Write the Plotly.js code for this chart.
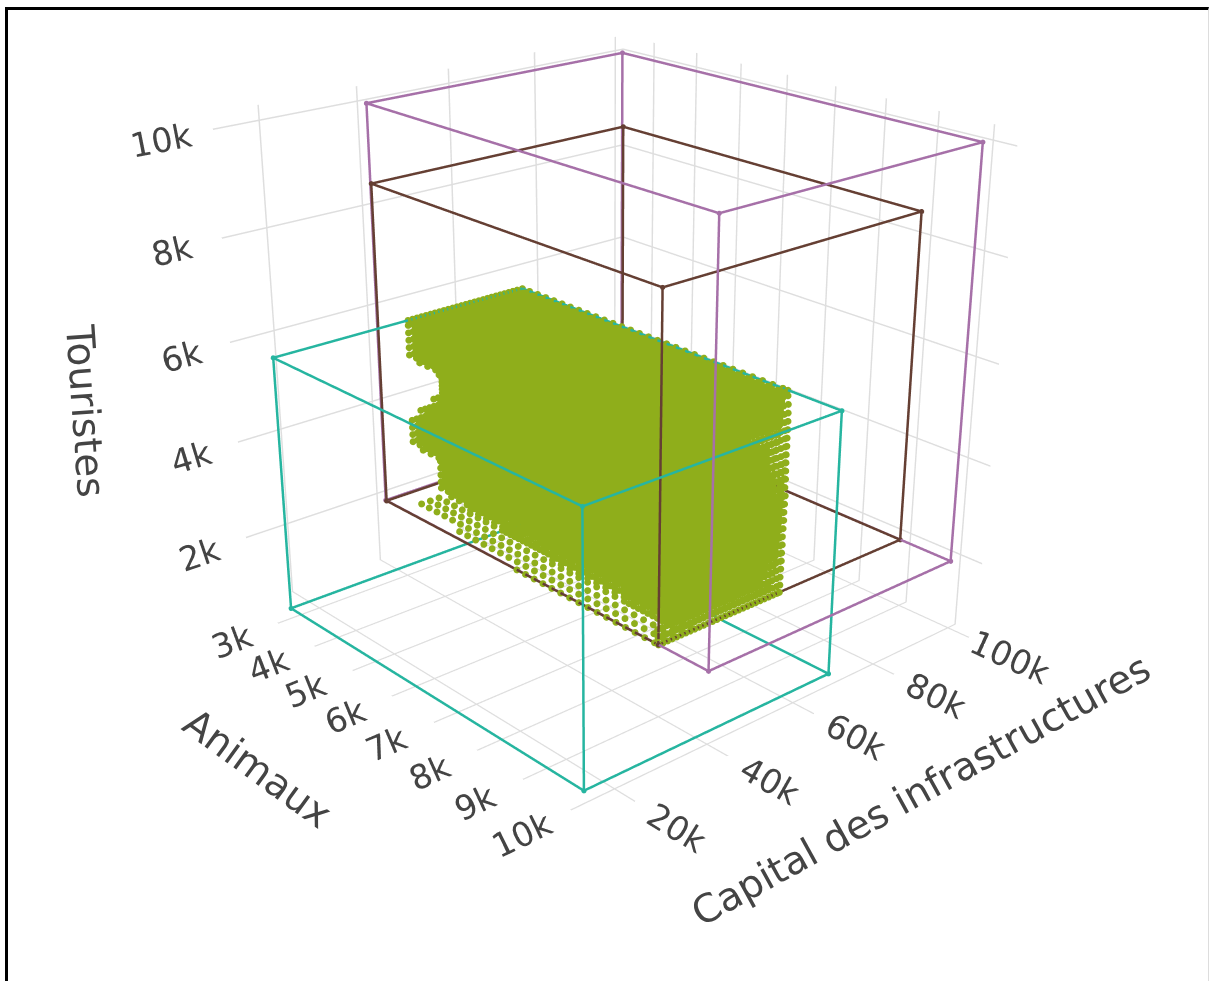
<!DOCTYPE html>
<html><head><meta charset="utf-8">
<script src="https://cdn.plot.ly/plotly-3.0.1.min.js"></script>
<style>html,body{margin:0;padding:0;background:#fff;overflow:hidden}#frame{position:absolute;left:5px;top:7px;width:1200px;height:971px;border-left:3px solid #000;border-top:3px solid #000;border-right:1px solid #ddd;overflow:hidden}#g{position:absolute;left:-2px;top:-374px;width:1201px;height:1715px}</style>
</head><body><div id="frame"><div id="g"></div></div>
<script>
var tealAnimals=[3221,10124], tealCapital=[12442,66957], tealTourists=[888,6000];
var brownAnimals=[3040,9381], brownCapital=[35700,93820], brownTourists=[2315,8723];
var purpleAnimals=[3010,10368], purpleCapital=[35760,93870], purpleTourists=[2315,10208];
var greenAnimals=[3221,3400,3600,3800,4000,4200,4400,4600,4800,5000,5200,5400,5600,5800,6000,6200,6400,6600,6800,7000,7200,7400,7600,7800,8000,8200,8400,8600,8800,9000,9200,9381];
var greenCapital=[35717,36700,37700,38700,39700,40700,41700,42700,43700,44700,45700,46700,47700,48700,49700,50700,51700,52700,53700,54700,55700,56700,57700,58700,59700,60700,61700,62700,63700,64700,65700,66957];
var greenTourists=[2315,2450,2600,2750,2900,3050,3200,3350,3500,3650,3800,3950,4100,4250,4400,4550,4700,4850,5000,5150,5300,5450,5600,5750,5900,6000];
var innerTourists=[2525,2675,2825,2975,3125,3275,3425,3575,3725,3875,4025,4175,4325,4475,4625,4775,4925];
var capitalStartByLevel=[46000,46000,46000,46200,46400,46400,46400,43000,40000,40000,40000,40500,42000,45000,47000,47100,47100,46700,45000,43000,40000,40000,40000,40000,40000,40000];
var capitalEndByLevel=[63300,63500,63600,63800,64000,64100,64300,64400,64600,64800,64900,65100,65300,65400,65600,65700,65800,65900,66100,66200,66400,66500,66600,66800,66900,66957];
var animalEndByLevel=[9381,9370,9360,9350,9340,9330,9320,9310,9300,9290,9280,9270,9260,9240,9230,9220,9210,9200,9190,9180,9170,9160,9150,9130,9110,9100];
var capitalShiftByAnimal=[0,200,500,800,1100,1400,1600,1800,2000,2200,2400,2600,2800,3000,3100,3200,3300,3400,3600,3700,3800,3900,4000,4100,4200,4300,4400,4500,4600,4700,4800,4800];
var floorAnimals=[3500,3700,3900,4100,4300,4500,4700,4900,5100,5300,5500,5700,5900,6100,6300,6500,6700,6900,7100,7300,7500,7700,7900,8100,8300,8500,8700,8900,9100,9300];
var floorCapital=[35717,37700,39700,41700,43700];
var floorFirstRow=[2,2,2,2,2,2,1,1,1,1,1,1,1,1,0,0,0,0,0,0,0,0,0,0,0,0,0,0,0,0];
var xTicks=[3000,4000,5000,6000,7000,8000,9000,10000], xLabels=['3k','4k','5k','6k','7k','8k','9k','10k'];
var yTicks=[20000,40000,60000,80000,100000], yLabels=['20k','40k','60k','80k','100k'];
var zTicks=[2000,4000,6000,8000,10000], zLabels=['2k','4k','6k','8k','10k'];
function wire(X,Y,Z,color){
 var order=[[0,0,0],[1,0,0],[1,1,0],[0,1,0],[0,0,0],[0,0,1],[1,0,1],[1,1,1],[0,1,1],[0,0,1],[null],[1,0,0],[1,0,1],[null],[1,1,0],[1,1,1],[null],[0,1,0],[0,1,1]];
 return {type:'scatter3d',mode:'lines+markers',x:order.map(o=>o[0]===null?null:X[o[0]]),y:order.map(o=>o[0]===null?null:Y[o[1]]),z:order.map(o=>o[0]===null?null:Z[o[2]]),line:{color:color,width:5},marker:{color:color,size:3},showlegend:false,hoverinfo:'none'};
}
var px=[],py=[],pz=[];
function add(a,c,t){px.push(a);py.push(c);pz.push(t);}
greenTourists.forEach(function(t,k){
 var aEnd=animalEndByLevel[k],cEnd=capitalEndByLevel[k];
 greenAnimals.forEach(function(a,i){
  var cStart=Math.max(35717,capitalStartByLevel[k]-capitalShiftByAnimal[i]);
  if(a>aEnd)return;
  greenCapital.forEach(function(c){if(c>=cStart&&c<=cEnd)add(a,c,t);});
  add(a,cEnd,t);
 });
 greenCapital.forEach(function(c){if(c<=cEnd&&c>=35717+capitalStartByLevel[k]-46000)add(aEnd,c,t);});
 add(aEnd,cEnd,t);
});
innerTourists.forEach(function(t){greenAnimals.forEach(function(a){if(a<=9000)greenCapital.forEach(function(c){if(c>=47700&&c<=63700)add(a,c,t);});});});
floorAnimals.forEach(function(a,i){floorCapital.forEach(function(c,j){if(j>=floorFirstRow[i])add(a,c,2315);});});
var data=[wire(tealAnimals,tealCapital,tealTourists,'#26b5a0'),wire(purpleAnimals,purpleCapital,purpleTourists,'#a670a8'),wire(brownAnimals,brownCapital,brownTourists,'#653f33'),
{type:'scatter3d',mode:'markers',x:px,y:py,z:pz,marker:{color:'#8fae1b',size:4,line:{width:0}},showlegend:false,hoverinfo:'none'}];
function ax(vals,txt,r){return {title:{text:''},range:r,tickvals:vals,ticktext:txt,tickfont:{family:'DejaVu Sans',size:20,color:'#444'},ticks:'outside',ticklen:28,tickwidth:1,tickcolor:'rgba(255,255,255,0)',showbackground:false,gridcolor:'#dedede',gridwidth:3,zeroline:false,showline:false,showspikes:false};}
function title(text,sx,sy,angle){return {text:text,xref:'paper',yref:'paper',x:(sx-6)/1201,y:1-(sy+364)/1715,xanchor:'center',yanchor:'middle',showarrow:false,textangle:angle,font:{family:'DejaVu Sans',size:39,color:'#444'}};}
var layout={width:1201,height:1715,margin:{l:0,r:0,t:0,b:0},paper_bgcolor:'#fff',showlegend:false,
annotations:[title('Animaux',258,768,36),title('Capital des infrastructures',920,790,-29),title('Touristes',85,411,86)],
scene:{aspectmode:'manual',aspectratio:{x:0.78993,y:0.75978,z:0.76283},camera:{eye:{x:2.064,y:-1.8321,z:1.0856},center:{x:0.10504,y:-0.09811,z:-0.10642},up:{x:0,y:0,z:1}},
 xaxis:ax(xTicks,xLabels,[2245,10420]),
 yaxis:ax(yTicks,yLabels,[11000,102000]),
 zaxis:ax(zTicks,zLabels,[508,10280])}};
Plotly.newPlot('g',data,layout,{displayModeBar:false});
</script></body></html>
